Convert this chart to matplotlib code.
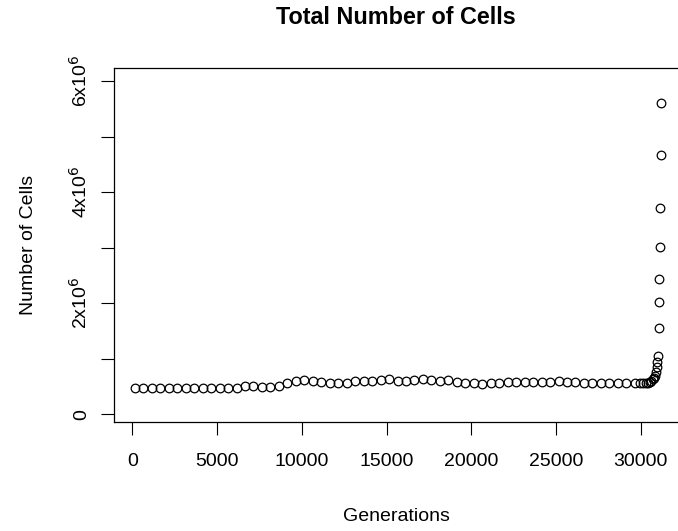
import matplotlib
matplotlib.use("Agg")
import matplotlib.pyplot as plt
import numpy as np

plt.rcParams["font.family"] = ["Liberation Sans", "DejaVu Sans"]

# generations sampled every 500 from 150 up to 29150, then denser at the end
regular_gen = list(range(150, 29151, 500))
regular_cells = [
    0.48, 0.48, 0.48, 0.48, 0.475, 0.475, 0.48, 0.485, 0.485, 0.48,
    0.47, 0.47, 0.475, 0.51, 0.51, 0.495, 0.495, 0.52, 0.57, 0.60,
    0.625, 0.60, 0.58, 0.565, 0.565, 0.575, 0.60, 0.61, 0.61, 0.625,
    0.63, 0.61, 0.60, 0.62, 0.63, 0.62, 0.61, 0.62, 0.58, 0.56,
    0.56, 0.55, 0.57, 0.57, 0.58, 0.58, 0.58, 0.58, 0.58, 0.59,
    0.60, 0.59, 0.58, 0.57, 0.57, 0.57, 0.57, 0.57, 0.57,
]
tail_gen = [29650, 29950, 30150, 30300, 30420, 30530, 30620, 30700, 30780,
            30840, 30900, 30940, 30980, 31020, 31060, 31080, 31100, 31120,
            31150, 31200, 31200]
tail_cells = [0.57, 0.56, 0.56, 0.57, 0.57, 0.58, 0.60, 0.63, 0.66,
              0.70, 0.76, 0.85, 0.94, 1.06, 1.55, 2.02, 2.43, 3.01,
              3.72, 4.66, 5.60]

generations = np.array(regular_gen + tail_gen)
cells = np.array(regular_cells + tail_cells) * 1e6

fig = plt.figure(figsize=(6.78, 5.31), dpi=100)
ax = fig.add_axes([114 / 678, 1 - 422 / 531, 565 / 678, 354 / 531])

ax.plot(generations, cells, "o", mfc="none", mec="black", ms=6.2, mew=0.9)

ax.set_xlim(-1080, 32259)
ax.set_ylim(-0.135e6, 6.234e6)

ax.set_xticks([0, 5000, 10000, 15000, 20000, 25000, 30000])
ax.set_yticks([0, 1e6, 2e6, 3e6, 4e6, 5e6, 6e6])
ax.set_yticklabels(["0", "", r"2x10$^6$", "", r"4x10$^6$", "", r"6x10$^6$"],
                   rotation=90, va="center")
ax.tick_params(axis="both", length=9.4, width=0.8, labelsize=14, direction="out")
ax.tick_params(axis="x", pad=13)
ax.tick_params(axis="y", pad=7.5)
ax.spines["right"].set_visible(False)
for s in ("top", "left", "bottom"):
    ax.spines[s].set_linewidth(0.9)

ax.set_xlabel("Generations", fontsize=14, labelpad=27)
ax.set_ylabel("Number of Cells", fontsize=14, labelpad=23)
fig.text(396 / 678, 1 - 18 / 531, "Total Number of Cells", fontsize=16.8,
         fontweight="bold", ha="center", va="center")

fig.savefig("out.png", dpi=100)
